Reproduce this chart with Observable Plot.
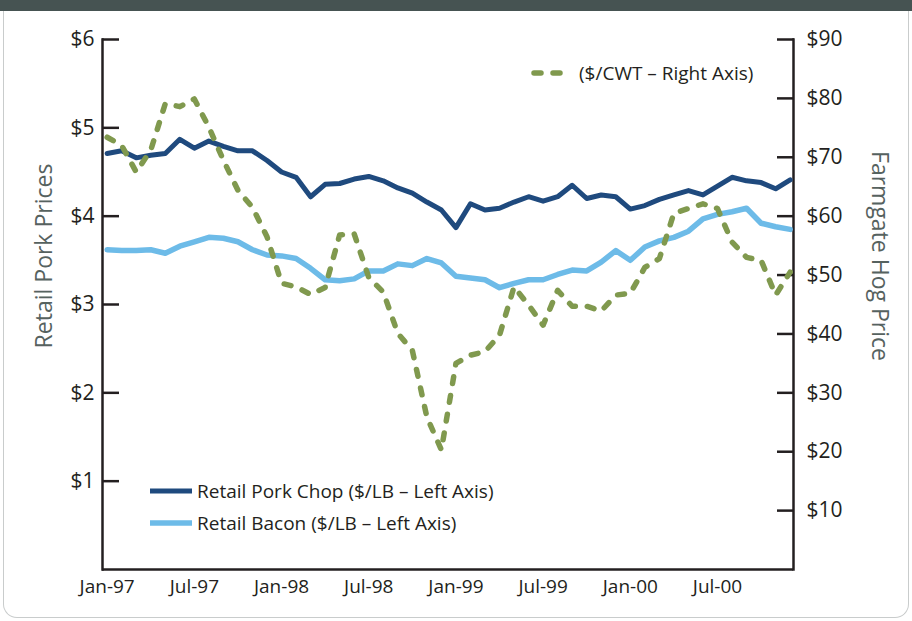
<!DOCTYPE html>
<html><head><meta charset="utf-8">
<script src="https://cdn.jsdelivr.net/npm/d3@7"></script>
<script src="https://cdn.jsdelivr.net/npm/@observablehq/plot@0.6"></script>
<style>
body{margin:0;background:#fff;font-family:"Open Sans",sans-serif;}
#wrap{position:relative;width:912px;height:621px;overflow:hidden;background:#fff;}
#band{position:absolute;left:0;top:0;width:912px;height:11px;background:#465352;}
#panel{position:absolute;left:3px;top:11px;width:906px;height:607px;border:1px solid #c9cccc;border-top:none;border-radius:0 0 14px 14px;box-sizing:border-box;}
#chart{position:absolute;left:0;top:0;}
.ttl{position:absolute;color:#56625f;font-size:23px;white-space:nowrap;line-height:1;}
.leg{position:absolute;font-size:19px;color:#231f20;white-space:nowrap;display:flex;align-items:center;line-height:1;}
.leg svg{display:block;margin-right:4px;}
</style></head>
<body>
<div id="wrap">
  <div id="band"></div>
  <div id="panel"></div>
  <div id="chart"></div>
  <div class="ttl" style="left:43px;top:256px;transform:translate(-50%,-50%) rotate(-90deg);">Retail Pork Prices</div>
  <div class="ttl" style="left:880px;top:256px;transform:translate(-50%,-50%) rotate(90deg);">Farmgate Hog Price</div>
  <div class="leg" style="left:530px;top:62px;">
    <svg width="45" height="22"><line x1="4" y1="11" x2="42" y2="11" stroke="#80994e" stroke-width="5.5" stroke-linecap="round" stroke-dasharray="7 12"/></svg>
    <span id="legHog"></span>
  </div>
  <div class="leg" style="left:150px;top:480px;">
    <svg width="43" height="22"><line x1="0" y1="11" x2="42" y2="11" stroke="#1f4a7e" stroke-width="5"/></svg>
    <span id="legChop"></span>
  </div>
  <div class="leg" style="left:150px;top:512px;">
    <svg width="43" height="22"><line x1="0" y1="11" x2="42" y2="11" stroke="#6dbbe8" stroke-width="5.5"/></svg>
    <span id="legBacon"></span>
  </div>
</div>
<script>
// ---- data (monthly, Jan-97 .. Dec-00) ----
const seriesNames = ["Retail Pork Chop ($/LB – Left Axis)", "Retail Bacon ($/LB – Left Axis)", "($/CWT – Right Axis)"];
const porkChop = [4.71,4.74,4.66,4.69,4.71,4.87,4.77,4.85,4.79,4.74,4.74,4.63,
                  4.50,4.44,4.22,4.36,4.37,4.42,4.45,4.40,4.32,4.26,4.16,4.07,
                  3.87,4.14,4.07,4.09,4.16,4.22,4.17,4.22,4.35,4.20,4.24,4.22,
                  4.08,4.12,4.19,4.24,4.29,4.24,4.34,4.44,4.40,4.38,4.31,4.41];
const bacon = [3.62,3.61,3.61,3.62,3.58,3.66,3.71,3.76,3.75,3.71,3.62,3.56,
               3.55,3.52,3.41,3.28,3.27,3.29,3.38,3.38,3.46,3.44,3.52,3.47,
               3.32,3.30,3.28,3.19,3.24,3.28,3.28,3.34,3.39,3.38,3.48,3.61,
               3.50,3.65,3.72,3.76,3.83,3.97,4.02,4.05,4.09,3.92,3.88,3.85];
const hogPrice = [73.4,72.0,67.5,71.2,79.1,78.6,79.9,75.1,69.5,64.4,61.5,56.5,
                  48.6,48.0,46.7,47.9,56.8,57.0,49.6,47.1,40.1,37.2,25.9,20.3,
                  35.0,36.4,37.0,39.8,48.0,44.9,41.5,47.4,44.7,44.7,43.9,46.6,
                  46.9,51.3,52.8,60.5,61.3,62.1,61.3,55.6,53.0,52.5,46.6,50.5];
const xTickLabels = ["Jan-97","Jul-97","Jan-98","Jul-98","Jan-99","Jul-99","Jan-00","Jul-00"];
const leftTicks = [1,2,3,4,5,6];
const rightTicks = [10,20,30,40,50,60,70,80,90];
const rightPerLeft = 15; // $90 right axis aligns with $6 left axis

document.getElementById("legChop").textContent = seriesNames[0];
document.getElementById("legBacon").textContent = seriesNames[1];
document.getElementById("legHog").textContent = seriesNames[2];

const chopRows = porkChop.map((v, i) => ({i, v}));
const baconRows = bacon.map((v, i) => ({i, v}));
const hogRows = hogPrice.map((v, i) => ({i, v: v / rightPerLeft}));
const axisColor = "#231f20";

const chart = Plot.plot({
  width: 912,
  height: 621,
  marginLeft: 102,
  marginRight: 119,
  marginTop: 39,
  marginBottom: 52,
  style: {fontFamily: "'Open Sans', sans-serif", background: "transparent", color: axisColor, overflow: "visible"},
  x: {type: "linear", domain: [-0.32, 47.23]},
  y: {domain: [0, 6]},
  marks: [
    Plot.frame({anchor: "left", stroke: axisColor, strokeWidth: 2.5}),
    Plot.frame({anchor: "right", stroke: axisColor, strokeWidth: 2.5}),
    Plot.ruleY([0], {stroke: axisColor, strokeWidth: 2.5}),
    Plot.axisY(leftTicks, {anchor: "left", tickSize: -17, tickPadding: 25, strokeWidth: 2.5,
      tickFormat: d => "$" + d, fontSize: 21, fill: axisColor, label: null}),
    Plot.axisY(rightTicks.map(d => d / rightPerLeft), {anchor: "right", tickSize: -17, tickPadding: 30, strokeWidth: 2.5,
      tickFormat: d => "$" + Math.round(d * rightPerLeft), fontSize: 21, fill: axisColor, label: null}),
    Plot.axisX(xTickLabels.map((_, k) => k * 6), {anchor: "bottom", tickSize: 0, tickPadding: 10,
      tickFormat: i => xTickLabels[i / 6], fontSize: 19, fill: axisColor, label: null}),
    Plot.line(baconRows, {x: "i", y: "v", stroke: "#6dbbe8", strokeWidth: 5.5}),
    Plot.line(chopRows, {x: "i", y: "v", stroke: "#1f4a7e", strokeWidth: 5}),
    Plot.line(hogRows, {x: "i", y: "v", stroke: "#80994e", strokeWidth: 5.5, strokeDasharray: "7 12", strokeLinecap: "round"})
  ]
});
document.getElementById("chart").appendChild(chart);
</script>
</body></html>
